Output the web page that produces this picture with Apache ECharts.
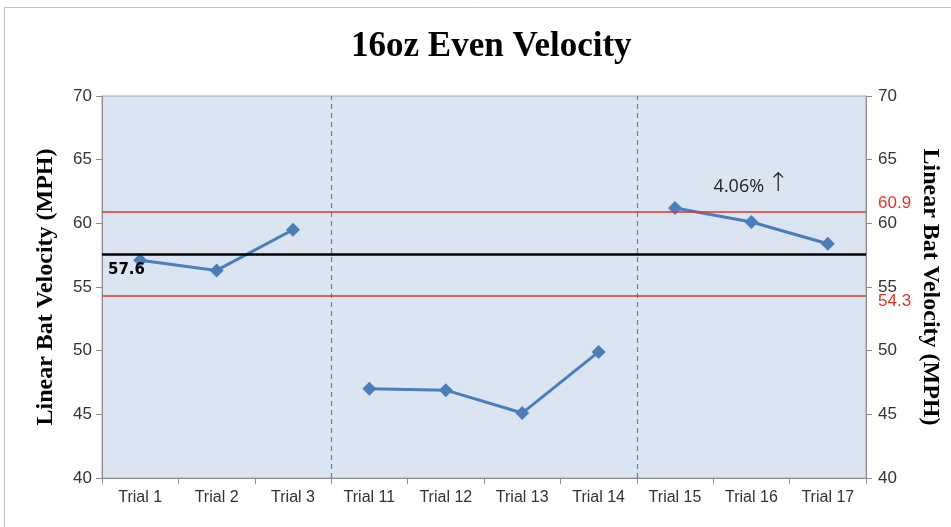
<!DOCTYPE html>
<html>
<head>
<meta charset="utf-8">
<script src="https://cdn.jsdelivr.net/npm/echarts@6/dist/echarts.min.js"></script>
<style>
  html, body { margin: 0; padding: 0; background: #fff; }
  #chart { width: 951px; height: 527px; }
</style>
</head>
<body>
<div id="chart"></div>
<script>
const trials = ['Trial 1', 'Trial 2', 'Trial 3', 'Trial 11', 'Trial 12', 'Trial 13', 'Trial 14', 'Trial 15', 'Trial 16', 'Trial 17']
const group1 = [57.1, 56.3, 59.5]
const group2 = [47.0, 46.9, 45.1, 49.9]
const group3 = [61.2, 60.1, 58.4]
const meanValue = 57.6
const upperLimit = 60.9
const lowerLimit = 54.3
const dividers = [3, 7]
const changeNote = { trial: 'Trial 16', value: 62.9, pct: '4.06%' }

const blue = '#4a7ebb'
const red = '#e0342b'
const tickFont = 'Liberation Sans, sans-serif'
const serif = 'Liberation Serif, serif'

// pad each group out to the full category list so the line breaks between groups
const pad = (before, vals, after) =>
  Array(before).fill(null).concat(vals, Array(after).fill(null))

const s1 = pad(0, group1, trials.length - group1.length)
const s2 = pad(group1.length, group2, group3.length)
const s3 = pad(group1.length + group2.length, group3, 0)

const chart = echarts.init(document.getElementById('chart'))

const lineSeries = (name, data) => ({
  name,
  type: 'line',
  data,
  connectNulls: false,
  symbol: 'diamond',
  symbolSize: 14,
  itemStyle: { color: blue },
  lineStyle: { color: blue, width: 3 },
  z: 5
})

const axisName = {
  fontFamily: serif,
  fontWeight: 'bold',
  fontSize: 24,
  color: '#000'
}

const option = {
  animation: false,
  backgroundColor: '#fff',
  title: {
    text: '16oz Even Velocity',
    left: 346,
    top: 24,
    textStyle: {
      fontFamily: serif,
      fontWeight: 'bold',
      fontSize: 35,
      color: '#000'
    }
  },
  graphic: [
    {
      type: 'rect',
      shape: { x: 4.5, y: 7.5, width: 980, height: 560 },
      style: { fill: 'none', stroke: '#bfbfbf', lineWidth: 1 },
      silent: true
    }
  ],
  grid: {
    left: 102,
    right: 85,
    top: 96,
    bottom: 49,
    outerBoundsMode: 'none',
    show: true,
    backgroundColor: '#dbe5f1',
    borderColor: '#a6a6a6',
    borderWidth: 1
  },
  xAxis: [
    {
      type: 'category',
      data: trials,
      boundaryGap: true,
      axisLine: { lineStyle: { color: '#8c8c8c' } },
      axisTick: { show: true, alignWithLabel: false, length: 6, lineStyle: { color: '#8c8c8c' } },
      axisLabel: { fontFamily: tickFont, fontSize: 16, color: '#333', margin: 12 }
    },
    {
      type: 'value',
      min: 0,
      max: trials.length,
      show: false
    }
  ],
  yAxis: [
    {
      type: 'value',
      min: 40,
      max: 70,
      interval: 5,
      position: 'left',
      name: 'Linear Bat Velocity (MPH)',
      nameLocation: 'middle',
      nameGap: 44,
      nameTextStyle: axisName,
      axisLine: { show: true, lineStyle: { color: '#8c8c8c' } },
      axisTick: { show: true, length: 6, lineStyle: { color: '#8c8c8c' } },
      axisLabel: { fontFamily: tickFont, fontSize: 17, color: '#333', margin: 10 },
      splitLine: { show: false }
    },
    {
      type: 'value',
      min: 40,
      max: 70,
      interval: 5,
      position: 'right',
      name: 'Linear Bat Velocity (MPH)',
      nameLocation: 'middle',
      nameGap: 52,
      nameRotate: -90,
      nameTextStyle: axisName,
      axisLine: { show: true, lineStyle: { color: '#8c8c8c' } },
      axisTick: { show: true, length: 6, lineStyle: { color: '#8c8c8c' } },
      axisLabel: { fontFamily: tickFont, fontSize: 17, color: '#333', margin: 12 },
      splitLine: { show: false }
    }
  ],
  series: [
    {
      ...lineSeries('Group 1', s1),
      markLine: {
        silent: true,
        symbol: 'none',
        z: 6,
        data: [
          {
            yAxis: meanValue,
            lineStyle: { color: '#000', width: 2.5, type: 'solid' },
            label: {
              show: true,
              position: 'insideStartBottom',
              formatter: String(meanValue),
              fontFamily: 'DejaVu Sans, sans-serif',
              fontWeight: 'bold',
              fontSize: 15,
              color: '#000',
              distance: [6, 9]
            }
          },
          {
            yAxis: upperLimit,
            lineStyle: { color: red, width: 1.5, type: 'solid' },
            label: {
              show: true,
              position: 'end',
              formatter: String(upperLimit),
              fontFamily: tickFont,
              fontSize: 17,
              color: red,
              distance: 12,
              offset: [0, -9]
            }
          },
          {
            yAxis: lowerLimit,
            lineStyle: { color: red, width: 1.5, type: 'solid' },
            label: {
              show: true,
              position: 'end',
              formatter: String(lowerLimit),
              fontFamily: tickFont,
              fontSize: 17,
              color: red,
              distance: 12,
              offset: [0, 5]
            }
          }
        ]
      }
    },
    lineSeries('Group 2', s2),
    {
      ...lineSeries('Group 3', s3),
      markPoint: {
        silent: true,
        symbol: 'circle',
        symbolSize: 0,
        label: {
          show: true,
          position: 'inside',
          formatter: '{t|' + changeNote.pct + '} {a|↑}',
          rich: {
            t: { fontFamily: 'Open Sans, sans-serif', fontSize: 18, color: '#222' },
            a: { fontFamily: 'DejaVu Sans, sans-serif', fontSize: 26, fontWeight: 'lighter', color: '#222', padding: [0, 0, 4, 0] }
          }
        },
        data: [{ coord: [changeNote.trial, changeNote.value] }]
      }
    },
    {
      name: 'dividers',
      type: 'line',
      xAxisIndex: 1,
      data: [],
      markLine: {
        silent: true,
        symbol: 'none',
        label: { show: false },
        data: dividers.map(d => ({
          xAxis: d,
          lineStyle: { color: '#4f81d0', width: 1.2, type: [5, 4], opacity: 1 }
        }))
      }
    }
  ]
}

chart.setOption(option)
window.addEventListener('resize', () => chart.resize())
</script>
</body>
</html>
